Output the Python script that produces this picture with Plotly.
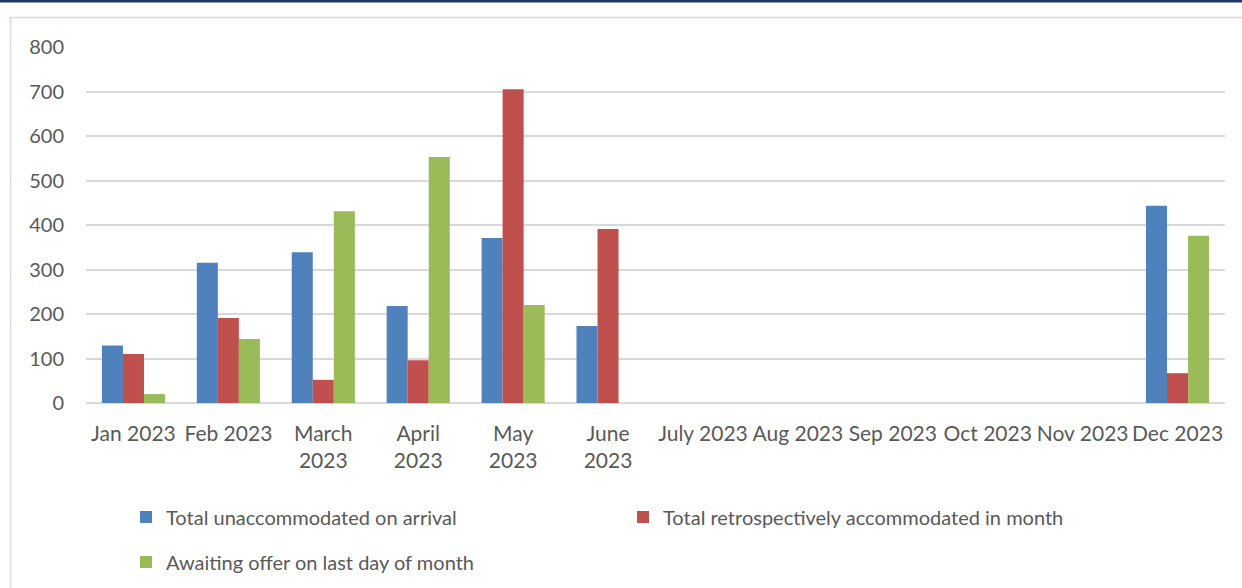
import plotly.graph_objects as go

# ── Data ────────────────────────────────────────────────────────────────────
months = ["Jan 2023", "Feb 2023", "March 2023", "April 2023", "May 2023",
          "June 2023", "July 2023", "Aug 2023", "Sep 2023", "Oct 2023",
          "Nov 2023", "Dec 2023"]
tick_labels = ["Jan 2023", "Feb 2023", "March<br>2023", "April<br>2023",
               "May<br>2023", "June<br>2023", "July 2023", "Aug 2023",
               "Sep 2023", "Oct 2023", "Nov 2023", "Dec 2023"]

unaccommodated = [129, 315, 339, 218, 371, 173, None, None, None, None, None, 443]
retro_accommodated = [110, 191, 52, 96, 705, 391, None, None, None, None, None, 67]
awaiting_offer = [20, 144, 431, 553, 220, None, None, None, None, None, None, 376]

SERIES = [
    ("Total unaccommodated on arrival", unaccommodated, "#4f81bd", "legend"),
    ("Total retrospectively accommodated in month", retro_accommodated, "#c0504d", "legend2"),
    ("Awaiting offer on last day of month", awaiting_offer, "#9bbb59", "legend3"),
]

# ── Geometry (pixels) ───────────────────────────────────────────────────────
W, H = 1242, 588
PL, PR, PT, PB = 86, 17, 47, 185
FONT = "Lato, 'Open Sans', sans-serif"
TXT = "#595959"


def px_x(x):
    return (x - PL) / (W - PL - PR)


def px_y(y):
    return (H - PB - y) / (H - PT - PB)


fig = go.Figure()
for name, vals, color, leg in SERIES:
    fig.add_trace(go.Bar(
        x=months, y=vals, name=name,
        marker=dict(color=color, line=dict(width=0)),
        legend=leg,
    ))

legend_common = dict(
    orientation="h", xref="container", yref="container",
    xanchor="left", yanchor="middle",
    font=dict(family=FONT, size=20, color=TXT),
    bgcolor="rgba(0,0,0,0)", borderwidth=0,
)

fig.update_layout(
    width=W, height=H,
    margin=dict(l=PL, r=PR, t=PT, b=PB),
    paper_bgcolor="white", plot_bgcolor="white",
    barmode="group", bargap=0.335, bargroupgap=0,
    font=dict(family=FONT, size=20, color=TXT),
    showlegend=True,
    legend=dict(legend_common, x=126 / W, y=1 - 517 / H),
    legend2=dict(legend_common, x=623 / W, y=1 - 517 / H),
    legend3=dict(legend_common, x=126 / W, y=1 - 562 / H),
    xaxis=dict(
        tickmode="array", tickvals=months, ticktext=tick_labels,
        showgrid=False, showline=False, ticks="",
        ticklabelstandoff=16,
        tickfont=dict(family=FONT, size=21, color=TXT),
    ),
    yaxis=dict(
        range=[0, 800], dtick=100, showgrid=True, gridcolor="#d9d9d9",
        gridwidth=1.5, zeroline=True, zerolinecolor="#d9d9d9",
        zerolinewidth=2, showline=False, ticks="",
        ticklabelstandoff=21,
        tickfont=dict(family=FONT, size=20, color=TXT),
    ),
    shapes=[
        # outer chart border
        dict(type="rect", xref="paper", yref="paper",
             x0=px_x(10.5), x1=px_x(W + 20), y0=px_y(H + 20), y1=px_y(17.5),
             line=dict(color="#d9d9d9", width=1.5), fillcolor="rgba(0,0,0,0)",
             layer="below"),
        # navy rule at top of page
        dict(type="rect", xref="paper", yref="paper",
             x0=px_x(-5), x1=px_x(W + 5), y0=px_y(2.5), y1=px_y(-5),
             line=dict(width=0), fillcolor="#1f3864"),
    ],
)

fig.write_html(
    "out.html",
    config={"displayModeBar": False},
    post_script="document.body.style.margin='0';document.body.style.overflow='hidden';",
)
